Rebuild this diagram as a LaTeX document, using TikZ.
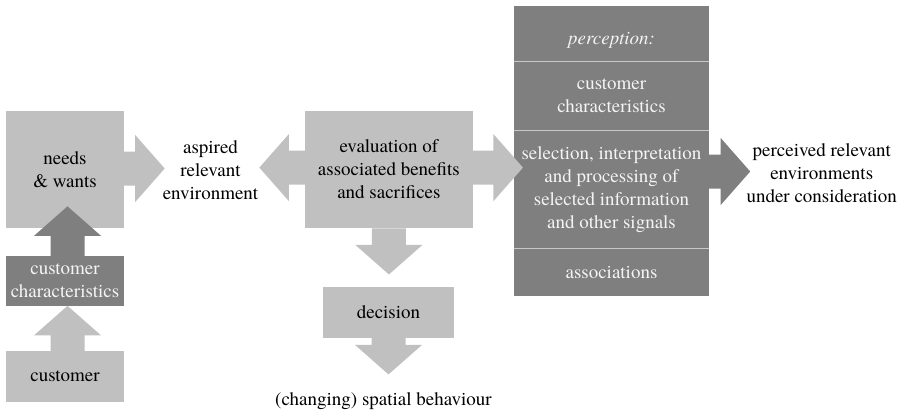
\documentclass[tikz,border=0pt]{standalone}
\usepackage{fontspec}
\newfontfamily\diagfont{texgyretermes}[
  Extension=.otf,
  UprightFont=*-regular,
  ItalicFont=*-italic,
  BoldFont=*-bold,
  BoldItalicFont=*-bolditalic]
\usetikzlibrary{calc}
\definecolor{lightfill}{HTML}{C0C0C0}
\definecolor{darkfill}{HTML}{7F7F7F}
\definecolor{sepline}{HTML}{C8C8C8}
\definecolor{paletext}{HTML}{F4F4F4}
\tikzset{
  txt/.style={font=\diagfont\fontsize{19}{23}\selectfont, align=center, inner sep=0pt},
  lbox/.style={txt, fill=lightfill, text=black},
  dbox/.style={txt, fill=darkfill, text=paletext},
  plain/.style={txt, text=black},
  sepstyle/.style={draw=sepline, line width=0.9pt},
  % block arrow pointing along +x: shaft length #2, fill colour #1
  pics/fatarrow/.style 2 args={code={
    \fill[#1] (0,-17) -- (#2,-17) -- (#2,-33.5) -- (#2+29.5,0)
      -- (#2,33.5) -- (#2,17) -- (0,17) -- cycle;
  }}
}
\begin{document}
\begin{tikzpicture}[x=1pt, y=-1pt]
\path[use as bounding box] (0,0) rectangle (904,412);

% left column
\node[lbox, minimum width=118, minimum height=117.6] (needs) at (65,169.5) {needs\\\& wants};
\node[dbox, minimum width=118, minimum height=49.7] (chars) at (65,280.9) {customer\\characteristics};
\node[lbox, minimum width=118, minimum height=50.7] (cust) at (65,376.4) {customer};

% middle column
\node[plain] (aspired) at (210.5,170) {aspired\\relevant\\environment};
\node[lbox, minimum width=167.7, minimum height=117.3] (eval) at (388.9,169.6) {evaluation of\\associated benefits\\and sacrifices};
\node[lbox, minimum width=131.6, minimum height=51] (dec) at (388.5,312.2) {decision};
\node[plain] (behav) at (383.5,401) {(changing) spatial behaviour};

% perception block
\node[dbox, minimum width=195, minimum height=55, text height=23, text depth=0] (perc) at (611.5,33.5) {\itshape perception:};
\node[dbox, minimum width=195, minimum height=69, anchor=north] (pchar) at (perc.south) {customer\\characteristics};
\node[dbox, minimum width=195, minimum height=117, anchor=north] (psel) at (pchar.south) {selection, interpretation\\and processing of\\selected information\\and other signals};
\node[dbox, minimum width=195, minimum height=48, anchor=north] (pass) at (psel.south) {associations};
\draw[sepstyle] (perc.south west) -- (perc.south east);
\draw[sepstyle] (pchar.south west) -- (pchar.south east);
\draw[sepstyle] (psel.south west) -- (psel.south east);

\node[plain] (perceived) at (821.7,173) {perceived relevant\\environments\\under consideration};

% block arrows
\pic at ($(needs.east)+(0,-1)$) {fatarrow={lightfill}{11}};
\pic[rotate=180] at ($(eval.west)+(0,-2)$) {fatarrow={lightfill}{16}};
\pic at ($(eval.east)+(0,-2)$) {fatarrow={lightfill}{20.5}};
\pic[rotate=-90] at (eval.south) {fatarrow={lightfill}{16.5}};
\pic[rotate=-90] at (dec.south) {fatarrow={lightfill}{7}};
\pic[rotate=90] at ($(chars.north)+(2.5,0)$) {fatarrow={darkfill}{20}};
\pic[rotate=90] at ($(cust.north)+(2.5,0)$) {fatarrow={lightfill}{15.5}};
\pic at ($(pchar.east |- 0,171.5)$) {fatarrow={darkfill}{11.5}};
\end{tikzpicture}
\end{document}
